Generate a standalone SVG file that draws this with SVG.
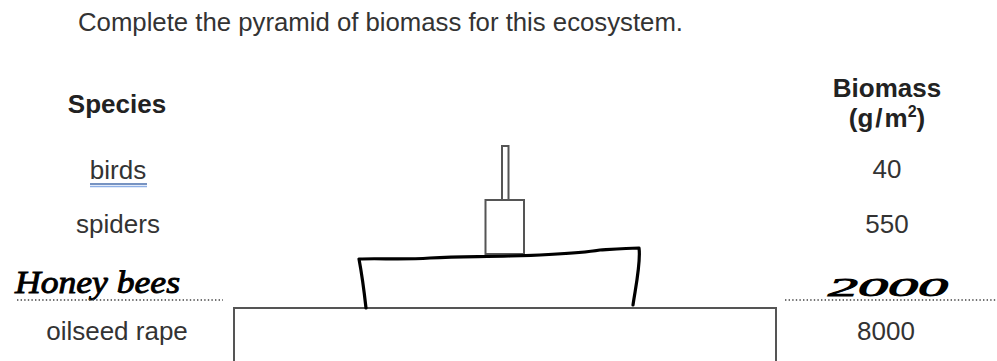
<svg xmlns="http://www.w3.org/2000/svg" width="997" height="361" viewBox="0 0 997 361">
<style>
.t{font-family:"Liberation Sans",Arial,sans-serif;font-size:26px;fill:#333}
.b{font-weight:bold;fill:#222}
.m{text-anchor:middle}
.bar{fill:#fff;stroke:#555;stroke-width:2}
.hand{fill:none;stroke:#000;stroke-width:3.2;stroke-linecap:round;stroke-linejoin:round}
.hw{font-family:"Liberation Serif",serif;font-style:italic;fill:#000;stroke:#000;stroke-width:0.9}
.dot{stroke:#444;stroke-width:1.6;stroke-dasharray:1.4 2.2}
</style>
<rect width="997" height="361" fill="#fff"/>
<g id="title"><text class="t" x="78" y="31" textLength="605" lengthAdjust="spacingAndGlyphs">Complete the pyramid of biomass for this ecosystem.</text></g>
<g id="head-species"><text class="t b m" x="117" y="113">Species</text></g>
<g id="head-biomass"><text class="t b m" x="887" y="97">Biomass</text><text class="t b m" x="887" y="127">(g<tspan dx="2">/</tspan><tspan dx="2">m</tspan><tspan font-size="16" dy="-10">2</tspan><tspan dy="10">)</tspan></text></g>
<g id="row-birds">
<text class="t m" x="118" y="179">birds</text>
<line x1="90" y1="184" x2="147" y2="184" stroke="#4a6fae" stroke-width="1.3"/>
<line x1="90" y1="186.5" x2="147" y2="186.5" stroke="#8fb0e6" stroke-width="1.3"/>
<text class="t m" x="887" y="178">40</text>
<rect class="bar" x="502" y="146" width="6.5" height="54" stroke-width="1.8"/>
</g>
<g id="row-spiders">
<text class="t m" x="118" y="233">spiders</text>
<text class="t m" x="887" y="233">550</text>
<rect class="bar" x="485.5" y="200" width="38.5" height="54" stroke-width="1.8"/>
</g>
<g id="row-oilseed">
<text class="t m" x="117" y="340">oilseed rape</text>
<text class="t m" x="886" y="340">8000</text>
<rect class="bar" x="234" y="308" width="542" height="58"/>
</g>
<g id="row-honeybees">
<path class="hand" d="M366,308 C364,290 362,275 359,259 C380,258 400,260 430,258 C460,256 480,257 510,256 C545,255 575,254 600,250 C615,249 628,248 639,248 C641,262 636,285 633,305"/>
<text class="hw" x="15" y="293" font-size="32" textLength="165" lengthAdjust="spacingAndGlyphs">Honey bees</text>
<text class="hw" x="828" y="296" font-size="26" textLength="120" lengthAdjust="spacingAndGlyphs">2000</text>
</g>
<g id="connectors">
<line class="dot" x1="17" y1="300" x2="223" y2="300"/>
<line class="dot" x1="785" y1="300" x2="997" y2="300"/>
</g>
</svg>
